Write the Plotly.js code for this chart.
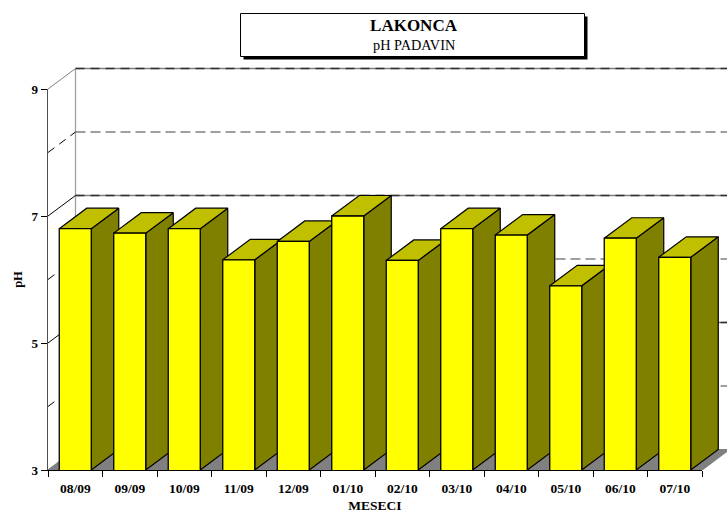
<!DOCTYPE html>
<html>
<head>
<meta charset="utf-8">
<script src="https://cdn.plot.ly/plotly-3.0.1.min.js"></script>
<style>html,body{margin:0;padding:0;background:#fff}#chart{width:727px;height:513px}</style>
</head>
<body>
<div id="chart"></div>
<script>
const months = ['08/09','09/09','10/09','11/09','12/09','01/10','02/10','03/10','04/10','05/10','06/10','07/10'];
const phValues = [6.8,6.73,6.8,6.31,6.6,7.0,6.3,6.8,6.7,5.9,6.65,6.35];
const yMin = 3, yMax = 9;
const majorGrid = [9,7,5];
const minorGrid = [8,6,4];
const barWidth = 0.587;
const depthX = 0.5046;   // oblique depth in x units
const depthY = 0.3228;   // oblique depth in y units
const font = 'Liberation Serif, Times New Roman, serif';

const W = 727, H = 513, L = 48, R = 0, T = 60, B = 43;
const plotW = W - L - R, plotH = H - T - B;
const frontW = 654, frontH = 381;  // size of the visible front plane
const px = v => (v - L) / plotW;
const py = v => 1 - (v - T) / plotH;

const xLo = -0.5, xHi = months.length - 0.5;
const traces = [];
function line(x, y, color, width, dash) {
  traces.push({type:'scatter', mode:'lines', x, y, xaxis:'x', yaxis:'y',
    line:{color, width, dash: dash || 'solid', simplify:false}, hoverinfo:'skip', showlegend:false});
}
function poly(x, y, fill, edge) {
  traces.push({type:'scatter', mode:'lines', x, y, xaxis:'x', yaxis:'y', fill:'toself',
    fillcolor:fill, line:{color:edge, width:1.2, simplify:false}, hoverinfo:'skip', showlegend:false});
}

// back wall edge and grid
line([xLo+depthX, xLo+depthX], [yMin+depthY, yMax+depthY], '#a0a0a0', 1.3);
majorGrid.forEach(v => {
  line([xLo+depthX, xHi+depthX], [v+depthY, v+depthY], '#808080', 1.4);
  line([xLo+depthX, xHi+depthX], [v+depthY, v+depthY], '#303030', 1.4, '9px,6px');
});
minorGrid.forEach(v => {
  line([xLo+depthX, xHi+depthX], [v+depthY, v+depthY], '#808080', 1.4, '10px,5px');
});
// side wall grid
majorGrid.forEach(v => line([xLo, xLo+depthX], [v, v+depthY], v === yMax ? '#808080' : '#000000', 1));
minorGrid.forEach(v => line([xLo, xLo+depthX], [v, v+depthY], '#000000', 1, '8px,6px'));
// floor
poly([xLo, xHi, xHi+depthX, xLo+depthX, xLo], [yMin, yMin, yMin+depthY, yMin+depthY, yMin], '#808080', '#808080');

// bar sides and tops, painted from left to right
phValues.forEach((v, i) => {
  const r = i + barWidth/2, l = i - barWidth/2;
  poly([r, r+depthX, r+depthX, r, r], [yMin, yMin+depthY, v+depthY, v, yMin], '#808000', '#000000');
  poly([l, r, r+depthX, l+depthX, l], [v, v, v+depthY, v+depthY, v], '#C0C000', '#000000');
});

// bar fronts on the visible front-plane axes, drawn above the depth faces
traces.push({type:'bar', x:months.map((m,i)=>i), y:phValues, width:barWidth, xaxis:'x2', yaxis:'y2',
  marker:{color:'#FFFF00', line:{color:'#000000', width:1.3}}, hoverinfo:'skip', showlegend:false});

const layout = {
  width:W, height:H, autosize:false, showlegend:false,
  paper_bgcolor:'#ffffff', plot_bgcolor:'rgba(0,0,0,0)',
  margin:{l:L, r:R, t:T, b:B, pad:0},
  font:{family:font, color:'#000000'},
  title:{
    text:'<b>LAKONCA</b>',
    font:{family:font, size:17, color:'#000000'},
    xref:'paper', yref:'container', x:px(413.5), xanchor:'center', y:1-25/H, yanchor:'middle'
  },
  // hidden full-size axes that carry the depth faces, same pixel scale as the front plane
  xaxis:{domain:[0,1], range:[xLo, xLo + (xHi-xLo)*plotW/frontW], visible:false, anchor:'y'},
  yaxis:{domain:[0,1], range:[yMin, yMin + (yMax-yMin)*plotH/frontH], visible:false, anchor:'x'},
  xaxis2:{
    domain:[0, frontW/plotW], anchor:'y2',
    type:'linear', range:[xLo, xHi], tickmode:'array', tickvals:months.map((m,i)=>i), ticktext:months,
    ticks:'', showgrid:false, zeroline:false, showline:true, linecolor:'#000000', linewidth:1.3,
    tickfont:{family:font, size:13.5, color:'#000000', weight:'bold'}, ticklabelstandoff:5,
    minor:{tickmode:'linear', tick0:-0.5, dtick:1, ticks:'outside', ticklen:6, tickwidth:1, tickcolor:'#000000', showgrid:false},
    title:{text:'<b>MESECI</b>', font:{family:font, size:13.5, color:'#000000'}, standoff:8}
  },
  yaxis2:{
    domain:[0, frontH/plotH], anchor:'x2',
    type:'linear', range:[yMin, yMax], tickmode:'array', tickvals:[3,5,7,9],
    ticks:'outside', ticklen:6, tickwidth:1, tickcolor:'#000000',
    showgrid:false, zeroline:false, showline:true, linecolor:'#505050', linewidth:1.5,
    tickfont:{family:font, size:13, color:'#000000', weight:'bold'},
    title:{text:'<b>pH</b>', font:{family:font, size:12.5, color:'#000000'}, standoff:6}
  },
  annotations:[
    {text:'pH PADAVIN', xref:'paper', yref:'paper', x:px(414), y:py(45), xanchor:'center', yanchor:'middle',
      showarrow:false, font:{family:font, size:14.3, color:'#000000'}}
  ],
  shapes:[
    {type:'rect', xref:'paper', yref:'paper', x0:px(243.5), x1:px(587.5), y0:py(59.5), y1:py(16.5),
      fillcolor:'#000000', line:{width:0}, layer:'above'},
    {type:'rect', xref:'paper', yref:'paper', x0:px(240.5), x1:px(584.5), y0:py(56.5), y1:py(13.5),
      fillcolor:'#ffffff', line:{color:'#000000', width:1}, layer:'above'}
  ]
};
Plotly.newPlot('chart', traces, layout, {displayModeBar:false, staticPlot:true});
</script>
</body>
</html>
